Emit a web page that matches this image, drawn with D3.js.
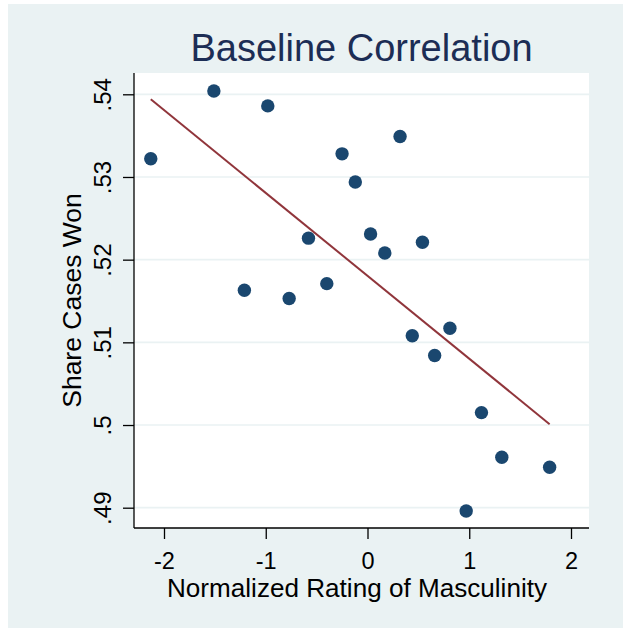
<!DOCTYPE html>
<html>
<head>
<meta charset="utf-8">
<script src="https://cdn.jsdelivr.net/npm/d3@7"></script>
<style>
  body { margin: 0; background: #ffffff; }
  text { font-family: "Liberation Sans", Arial, Helvetica, sans-serif; }
</style>
</head>
<body>
<script>
// rating of masculinity (x) and share of cases won (y), one pair per dot
const masculinity = [-2.13, -1.51, -1.21, -0.98, -0.77, -0.58, -0.40, -0.25, -0.12, 0.03,
                     0.17, 0.32, 0.44, 0.54, 0.66, 0.81, 0.97, 1.12, 1.32, 1.79];
const shareWon = [0.5322, 0.5404, 0.5163, 0.5386, 0.5153, 0.5226, 0.5171, 0.5328, 0.5294, 0.5231,
                  0.5208, 0.5349, 0.5108, 0.5221, 0.5084, 0.5117, 0.4896, 0.5015, 0.4961, 0.4949];

// fitted line end points
const fitX = [-2.13, 1.79];
const fitY = [0.5394, 0.5001];

const xTicks = [-2, -1, 0, 1, 2];
const yTicks = [0.49, 0.50, 0.51, 0.52, 0.53, 0.54];

const w = 623;
const h = 628;
// plot region
const pLeft = 134, pRight = 589, pTop = 73, pBottom = 528;

const xScale = d3.scaleLinear().domain([-2, 2]).range([164, 571]);
const yScale = d3.scaleLinear().domain([0.49, 0.54]).range([507.7, 94.3]);

const svg = d3.select("body").append("svg").attr("width", w).attr("height", h);

// outer background
svg.append("rect")
  .attr("x", 8).attr("y", 4)
  .attr("width", w - 8).attr("height", h - 4)
  .attr("fill", "#eaf2f3");

svg.append("rect")
  .attr("x", pLeft).attr("y", pTop)
  .attr("width", pRight - pLeft).attr("height", pBottom - pTop)
  .attr("fill", "#ffffff");

// grid lines
svg.append("g")
  .selectAll("line")
  .data(yTicks)
  .enter()
  .append("line")
  .attr("x1", pLeft).attr("x2", pRight)
  .attr("y1", d => yScale(d)).attr("y2", d => yScale(d))
  .attr("stroke", "#eaf2f3")
  .attr("stroke-width", 1.7);

// axes
const fmtY = d => d3.format(".2~f")(d).replace(/^0/, "");

const yAxis = svg.append("g")
  .attr("transform", `translate(${pLeft},0)`)
  .call(d3.axisLeft(yScale).tickValues(yTicks).tickFormat(fmtY).tickSize(11).tickSizeOuter(0));
yAxis.select(".domain").remove();
yAxis.append("line")
  .attr("x1", 0).attr("x2", 0).attr("y1", pTop).attr("y2", pBottom)
  .attr("stroke", "#000").attr("stroke-width", 1.3);
yAxis.selectAll(".tick line").attr("stroke", "#000").attr("stroke-width", 1.3);
yAxis.selectAll(".tick text")
  .attr("transform", "rotate(-90)")
  .attr("x", 0).attr("y", -23).attr("dy", 0)
  .attr("text-anchor", "middle")
  .attr("font-size", "24px")
  .attr("font-family", "Liberation Sans, Arial, sans-serif")
  .attr("fill", "#000");

const xAxis = svg.append("g")
  .attr("transform", `translate(0,${pBottom})`)
  .call(d3.axisBottom(xScale).tickValues(xTicks).tickFormat(d => String(d)).tickSize(11).tickSizeOuter(0));
xAxis.select(".domain").remove();
xAxis.append("line")
  .attr("x1", pLeft).attr("x2", pRight).attr("y1", 0).attr("y2", 0)
  .attr("stroke", "#000").attr("stroke-width", 1.3);
xAxis.selectAll(".tick line").attr("stroke", "#000").attr("stroke-width", 1.3);
xAxis.selectAll(".tick text")
  .attr("y", 41).attr("dy", 0)
  .attr("font-size", "23.5px")
  .attr("font-family", "Liberation Sans, Arial, sans-serif")
  .attr("fill", "#000");

// fitted line
svg.append("line")
  .attr("x1", xScale(fitX[0])).attr("y1", yScale(fitY[0]))
  .attr("x2", xScale(fitX[1])).attr("y2", yScale(fitY[1]))
  .attr("stroke", "#90353b")
  .attr("stroke-width", 2);

// dots
svg.append("g")
  .selectAll("circle")
  .data(masculinity.map((m, i) => [m, shareWon[i]]))
  .enter()
  .append("circle")
  .attr("cx", d => xScale(d[0]))
  .attr("cy", d => yScale(d[1]))
  .attr("r", 6.7)
  .attr("fill", "#1a476f");

// titles
svg.append("text")
  .text("Baseline Correlation")
  .attr("x", (pLeft + pRight) / 2)
  .attr("y", 61)
  .attr("text-anchor", "middle")
  .attr("font-size", "38px")
  .attr("fill", "#1c2d55");

svg.append("text")
  .text("Normalized Rating of Masculinity")
  .attr("x", 357)
  .attr("y", 597)
  .attr("text-anchor", "middle")
  .attr("font-size", "25px")
  .attr("textLength", 380)
  .attr("lengthAdjust", "spacingAndGlyphs")
  .attr("fill", "#000");

svg.append("text")
  .text("Share Cases Won")
  .attr("transform", `translate(81,${(pTop + pBottom) / 2}) rotate(-90)`)
  .attr("text-anchor", "middle")
  .attr("font-size", "26.5px")
  .attr("fill", "#000");
</script>
</body>
</html>
